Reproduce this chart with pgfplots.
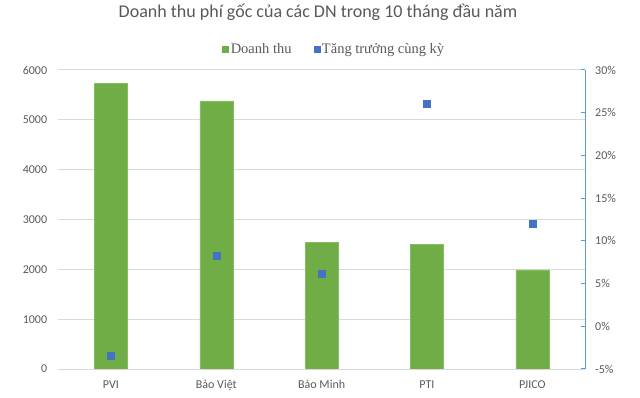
\documentclass[border=0pt]{standalone}
\usepackage{pgfplots}
\pgfplotsset{compat=1.18}
\usepackage{fontspec}
\setmainfont{Carlito}
\newfontfamily\timesf{Liberation Serif}
\definecolor{bargreen}{HTML}{70AD47}
\definecolor{baredge}{HTML}{84BF5F}
\definecolor{ptblue}{HTML}{4472C4}
\definecolor{axblue}{HTML}{5B9BD5}
\definecolor{txtgray}{HTML}{595959}
\definecolor{gridgray}{HTML}{D9D9D9}
\begin{document}
\begin{tikzpicture}
\path[use as bounding box] (0,0) rectangle (640bp,398bp);
\node[text=txtgray, font=\fontsize{18bp}{21bp}\selectfont, inner sep=0pt] at (318bp,386bp) {Doanh thu phí gốc của các DN trong 10 tháng đầu năm};
\begin{axis}[
  at={(58.3bp,29bp)}, anchor=south west, scale only axis,
  width=526.7bp, height=299bp,
  xmin=-0.5, xmax=4.5, ymin=0, ymax=6000,
  xtick={0,1,2,3,4}, xticklabels={PVI,Bảo Việt,Bảo Minh,PTI,PJICO},
  ytick={0,1000,2000,3000,4000,5000,6000},
  yticklabels={0,1000,2000,3000,4000,5000,6000},
  axis x line*=bottom, axis y line*=left,
  y axis line style={draw=none},
  x axis line style={draw=gridgray, line width=1bp},
  ymajorgrids, grid style={draw=gridgray, line width=1bp},
  major tick length=0pt,
  tick label style={font=\fontsize{12bp}{14bp}\selectfont, text=txtgray, inner sep=0pt},
  yticklabel style={anchor=east, xshift=-11bp},
  xticklabel style={anchor=base, yshift=-19.5bp},
]
\addplot[ybar, bar width=33bp, fill=bargreen, draw=baredge, line width=0.6bp, forget plot]
  coordinates {(0,5733) (1,5378) (2,2535) (3,2508) (4,1987)};
\end{axis}
\begin{axis}[
  at={(58.3bp,29bp)}, anchor=south west, scale only axis,
  width=526.7bp, height=299bp,
  xmin=-0.5, xmax=4.5, ymin=-5, ymax=30,
  axis x line=none, axis y line*=right,
  ytick={-5,0,5,10,15,20,25,30},
  yticklabels={-5\%,0\%,5\%,10\%,15\%,20\%,25\%,30\%},
  y axis line style={draw=axblue, line width=1bp},
  ytick style={draw=axblue, line width=1bp},
  major tick length=4.3bp, tick align=inside,
  tick label style={font=\fontsize{12bp}{14bp}\selectfont, text=txtgray, inner sep=0pt},
  yticklabel style={anchor=west, xshift=10bp},
  legend columns=2,
  legend style={at={(0.524,1.070)}, anchor=center, draw=none, fill=none,
    font=\timesf\fontsize{14.5bp}{17bp}\selectfont, text=txtgray,
    /tikz/every even column/.append style={column sep=20bp},
    nodes={inner sep=2bp}},
  legend cell align=left,
]
\addlegendimage{legend image code/.code={\fill[bargreen] (0bp,-3bp) rectangle (6bp,3bp);}}
\addlegendentry{Doanh thu}
\addplot[only marks, mark=square*, mark size=3.5bp, color=ptblue,
  legend image code/.code={\fill[ptblue] (0bp,-3bp) rectangle (6bp,3bp);}]
  coordinates {(0,-3.44) (1,8.3) (2,6.2) (3,26.0) (4,12.06)};
\addlegendentry{Tăng trưởng cùng kỳ}
\end{axis}
\end{tikzpicture}
\end{document}
